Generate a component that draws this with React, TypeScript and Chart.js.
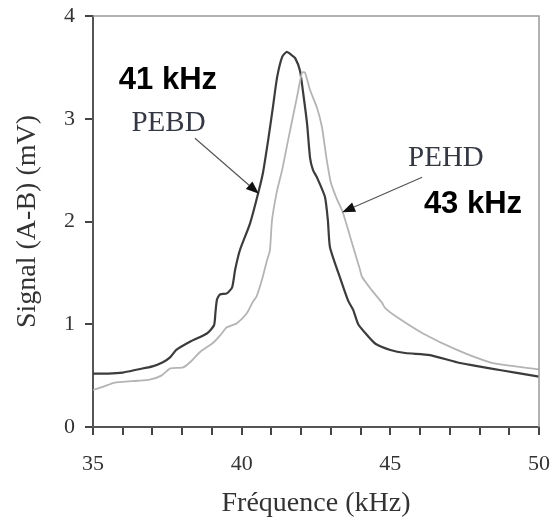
import React, { useEffect, useRef } from "react";
import { Chart, registerables } from "chart.js";

Chart.register(...registerables);

// PEBD (dark curve): frequency in kHz, signal in mV
const pebdFreq = [35.0, 35.5, 36.0, 36.5, 37.0, 37.35, 37.6, 37.8, 38.26, 38.83, 39.07, 39.12, 39.17, 39.27, 39.5, 39.68, 39.78, 39.94, 40.28, 40.55, 40.72, 40.89, 41.05, 41.19, 41.36, 41.51, 41.68, 41.8, 41.96, 42.06, 42.2, 42.3, 42.4, 42.53, 42.8, 42.9, 42.97, 43.3, 43.58, 43.75, 43.92, 44.2, 44.5, 45.0, 45.5, 46.33, 47.24, 47.78, 48.35, 49.2, 50.0];
const pebdSignal = [0.52, 0.52, 0.53, 0.56, 0.59, 0.63, 0.68, 0.75, 0.83, 0.91, 0.99, 1.12, 1.24, 1.29, 1.3, 1.36, 1.53, 1.72, 1.98, 2.27, 2.48, 2.79, 3.11, 3.4, 3.6, 3.65, 3.62, 3.59, 3.47, 3.27, 2.95, 2.62, 2.5, 2.43, 2.24, 2.01, 1.75, 1.46, 1.23, 1.14, 1.0, 0.9, 0.81, 0.75, 0.72, 0.7, 0.63, 0.6, 0.57, 0.53, 0.49];

// PEHD (light grey curve)
const pehdFreq = [35.0, 35.33, 35.7, 36.0, 36.5, 36.9, 37.3, 37.6, 38.03, 38.3, 38.6, 39.04, 39.3, 39.5, 39.84, 40.18, 40.38, 40.5, 40.68, 40.85, 40.95, 41.02, 41.19, 41.36, 41.56, 41.86, 42.03, 42.13, 42.3, 42.53, 42.7, 42.85, 43.0, 43.2, 43.4, 43.65, 43.98, 44.05, 44.38, 44.72, 44.82, 45.22, 46.1, 47.24, 48.35, 49.2, 50.0];
const pehdSignal = [0.36, 0.39, 0.43, 0.44, 0.45, 0.46, 0.5, 0.57, 0.58, 0.64, 0.73, 0.82, 0.9, 0.97, 1.01, 1.11, 1.22, 1.27, 1.43, 1.62, 1.72, 2.01, 2.3, 2.5, 2.79, 3.21, 3.45, 3.45, 3.28, 3.11, 2.92, 2.62, 2.38, 2.22, 2.09, 1.85, 1.53, 1.46, 1.33, 1.21, 1.16, 1.07, 0.91, 0.75, 0.63, 0.59, 0.56];

// Axis setup
const xMin = 35;
const xMax = 50;
const xLabelStep = 5;
const yMin = 0;
const yMax = 4;

// Annotation texts (positions in data units)
const annotationTexts = ["41 kHz", "PEBD", "PEHD", "43 kHz"];
const annotationX = [37.52, 37.54, 46.87, 47.78];
const annotationY = [3.37, 2.95, 2.61, 2.17];
const annotationBold = [true, false, false, true];

// Arrows: from (x0,y0) to (x1,y1), data units
const arrowX0 = [38.43, 46.07];
const arrowY0 = [2.81, 2.43];
const arrowX1 = [40.58, 43.38];
const arrowY1 = [2.27, 2.09];

function toPoints(xs: number[], ys: number[]) {
  return xs.map((x, i) => ({ x, y: ys[i] }));
}

const framePlugin = {
  id: "frame",
  afterDatasetsDraw(chart: any) {
    const { ctx, chartArea } = chart;
    ctx.save();
    ctx.strokeStyle = "#9a9a9a";
    ctx.lineWidth = 1.5;
    ctx.beginPath();
    ctx.moveTo(chartArea.left, chartArea.top);
    ctx.lineTo(chartArea.right, chartArea.top);
    ctx.lineTo(chartArea.right, chartArea.bottom);
    ctx.stroke();
    ctx.restore();
  },
};

const annotationPlugin = {
  id: "annots",
  afterDraw(chart: any) {
    const { ctx, scales } = chart;
    const xs = scales.x;
    const ys = scales.y;
    ctx.save();
    ctx.textAlign = "center";
    ctx.textBaseline = "middle";
    annotationTexts.forEach((t, i) => {
      const px = xs.getPixelForValue(annotationX[i]);
      const py = ys.getPixelForValue(annotationY[i]);
      if (annotationBold[i]) {
        ctx.font = "bold 31px 'Liberation Sans', Arial, sans-serif";
        ctx.fillStyle = "#000";
      } else {
        ctx.font = "29px 'Liberation Serif', 'Times New Roman', serif";
        ctx.fillStyle = "#333844";
      }
      ctx.fillText(t, px, py);
    });
    arrowX0.forEach((_, i) => {
      const x0 = xs.getPixelForValue(arrowX0[i]);
      const y0 = ys.getPixelForValue(arrowY0[i]);
      const x1 = xs.getPixelForValue(arrowX1[i]);
      const y1 = ys.getPixelForValue(arrowY1[i]);
      const ang = Math.atan2(y1 - y0, x1 - x0);
      const headLen = 13;
      const headW = 5;
      ctx.strokeStyle = "#555";
      ctx.fillStyle = "#111";
      ctx.lineWidth = 1.2;
      ctx.beginPath();
      ctx.moveTo(x0, y0);
      ctx.lineTo(x1 - Math.cos(ang) * headLen, y1 - Math.sin(ang) * headLen);
      ctx.stroke();
      ctx.beginPath();
      ctx.moveTo(x1, y1);
      const bx = x1 - Math.cos(ang) * headLen;
      const by = y1 - Math.sin(ang) * headLen;
      ctx.lineTo(bx + Math.sin(ang) * headW, by - Math.cos(ang) * headW);
      ctx.lineTo(bx - Math.sin(ang) * headW, by + Math.cos(ang) * headW);
      ctx.closePath();
      ctx.fill();
    });
    ctx.restore();
  },
};

export default function App() {
  const canvasRef = useRef<HTMLCanvasElement | null>(null);

  useEffect(() => {
    if (!canvasRef.current) return;
    const serif = "'Liberation Serif', 'Times New Roman', serif";
    const chart = new Chart(canvasRef.current, {
      type: "line",
      data: {
        datasets: [
          {
            label: "PEHD",
            data: toPoints(pehdFreq, pehdSignal),
            borderColor: "#b4b4b4",
            borderWidth: 1.8,
            pointRadius: 0,
            tension: 0.2,
            fill: false,
          },
          {
            label: "PEBD",
            data: toPoints(pebdFreq, pebdSignal),
            borderColor: "#3c3c3c",
            borderWidth: 2.2,
            pointRadius: 0,
            tension: 0.2,
            fill: false,
          },
        ],
      },
      options: {
        animation: false,
        responsive: false,
        layout: { padding: { top: 16, right: 15, left: 0, bottom: 0 } },
        plugins: {
          legend: { display: false },
          tooltip: { enabled: false },
        },
        scales: {
          x: {
            type: "linear",
            min: xMin,
            max: xMax,
            afterFit: (s: any) => {
              s.height = 93;
              s.paddingLeft = 0;
              s.paddingRight = 0;
            },
            ticks: {
              stepSize: 1,
              autoSkip: false,
              maxRotation: 0,
              padding: 16,
              color: "#333",
              font: { family: serif, size: 22 },
              callback: (v: any) => (Number(v) % xLabelStep === 0 ? String(v) : ""),
            },
            grid: {
              display: true,
              drawOnChartArea: false,
              drawTicks: true,
              tickLength: 8,
              color: "#444",
              tickColor: "#444",
              tickWidth: 2,
              lineWidth: 2,
            },
            border: { display: true, color: "#555", width: 2 },
            title: {
              display: true,
              text: "Fréquence (kHz)",
              color: "#333",
              font: { family: serif, size: 28 },
              padding: { top: 0, bottom: 0 },
            },
          },
          y: {
            type: "linear",
            min: yMin,
            max: yMax,
            afterFit: (s: any) => {
              s.width = 93;
              s.paddingTop = 0;
              s.paddingBottom = 0;
            },
            ticks: {
              stepSize: 1,
              padding: 10,
              color: "#333",
              font: { family: serif, size: 22 },
            },
            grid: {
              display: true,
              drawOnChartArea: false,
              drawTicks: true,
              tickLength: 8,
              color: "#444",
              tickColor: "#444",
              tickWidth: 2,
              lineWidth: 2,
            },
            border: { display: true, color: "#555", width: 2 },
            title: {
              display: true,
              text: "Signal (A-B) (mV)",
              color: "#333",
              font: { family: serif, size: 28 },
              padding: { top: 11, bottom: 0 },
            },
          },
        },
      },
      plugins: [framePlugin, annotationPlugin],
    });
    return () => chart.destroy();
  }, []);

  return (
    <div style={{ position: "absolute", left: 0, top: 0, width: 554, height: 520, background: "#fff" }}>
      <canvas ref={canvasRef} width={554} height={520} />
    </div>
  );
}
